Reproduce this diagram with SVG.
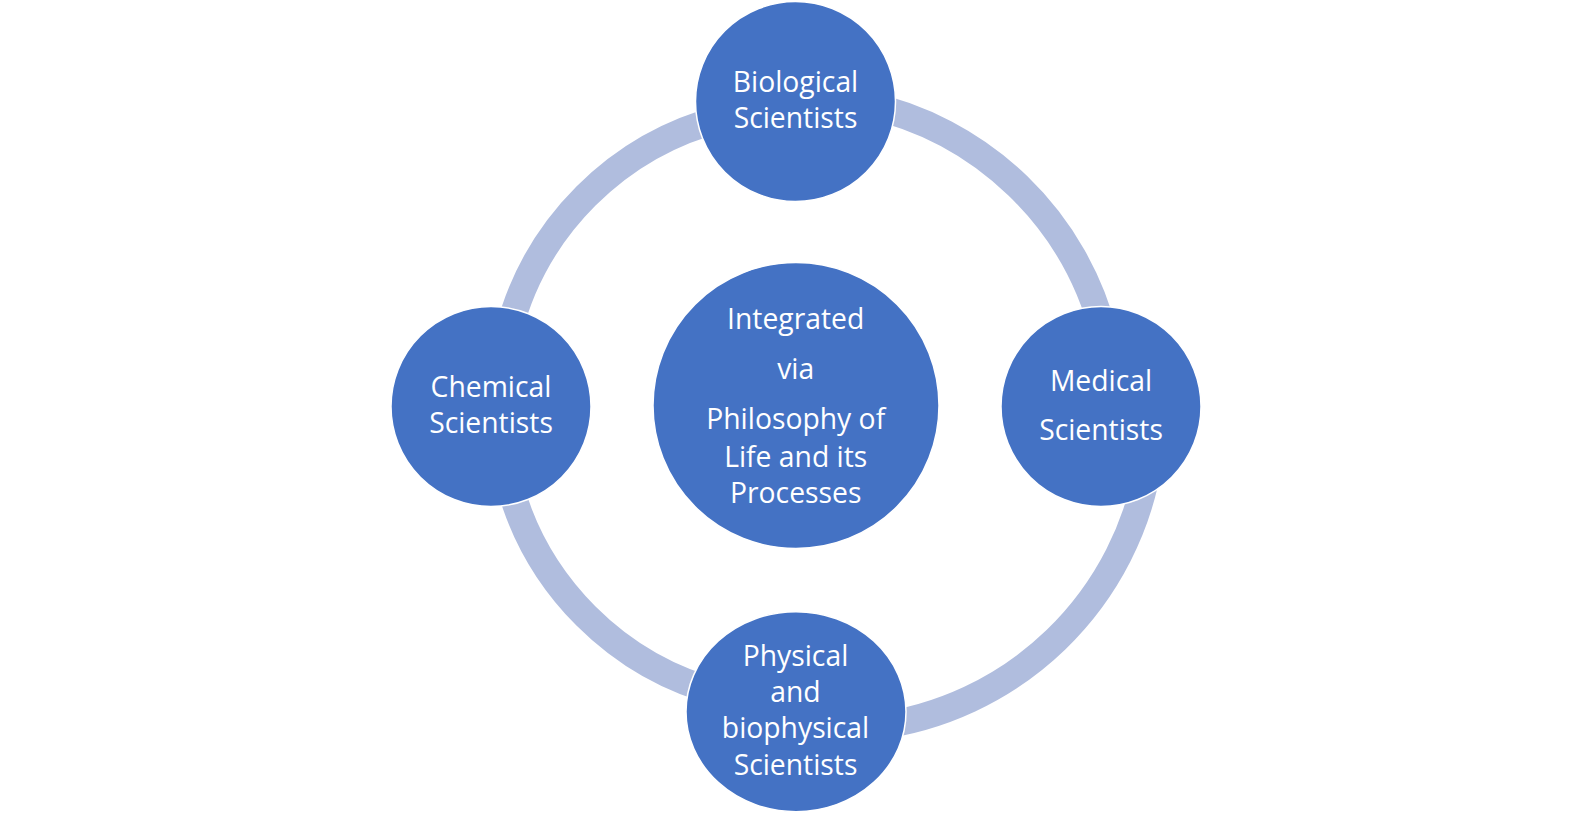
<svg xmlns="http://www.w3.org/2000/svg" width="1592" height="814" viewBox="0 0 1592 814">
<style>
.arc{fill:none;stroke:#B0BDDE;stroke-width:27}
.node{fill:#4472C4;stroke:#FFFFFF;stroke-width:1.5}
.lbl{font-family:"Open Sans",Lato,"Liberation Sans",sans-serif;font-size:28.3px;fill:#FFFFFF;text-anchor:middle;font-variant-ligatures:none}
</style>
<rect width="1592" height="814" fill="#FFFFFF"/>
<g id="connectors">
<path class="arc" d="M864.5,104.3 A315,315 0 0 1 1104.6,336.2"/>
<path class="arc" d="M1149.1,460.7 A318,318 0 0 1 873.8,726.6"/>
<path class="arc" d="M724.2,694.2 A297,297 0 0 1 507.8,477.8"/>
<path class="arc" d="M507.8,334.2 A297,297 0 0 1 724.2,117.8"/>
</g>
<g id="node-biological">
<circle class="node" cx="795.5" cy="101.5" r="100"/>
<text class="lbl" x="795.5" y="91.7">Biological</text>
<text class="lbl" x="795.5" y="128">Scientists</text>
</g>
<g id="node-chemical">
<circle class="node" cx="491" cy="406.5" r="100"/>
<text class="lbl" x="491" y="397.3">Chemical</text>
<text class="lbl" x="491" y="432.7">Scientists</text>
</g>
<g id="node-medical">
<circle class="node" cx="1101" cy="406.5" r="100"/>
<text class="lbl" x="1101" y="390.7">Medical</text>
<text class="lbl" x="1101" y="440">Scientists</text>
</g>
<g id="node-physical">
<ellipse class="node" cx="796" cy="711.7" rx="110" ry="100"/>
<text class="lbl" x="795.5" y="666">Physical</text>
<text class="lbl" x="795.5" y="701.7">and</text>
<text class="lbl" x="795.5" y="738.3">biophysical</text>
<text class="lbl" x="795.5" y="775">Scientists</text>
</g>
<g id="node-center">
<circle class="node" cx="796" cy="405.5" r="143"/>
<text class="lbl" x="795.7" y="329.3">Integrated</text>
<text class="lbl" x="795.7" y="379.3">via</text>
<text class="lbl" x="795.7" y="429">Philosophy of</text>
<text class="lbl" x="795.7" y="466.7">Life and its</text>
<text class="lbl" x="795.7" y="503.3">Processes</text>
</g>
</svg>
